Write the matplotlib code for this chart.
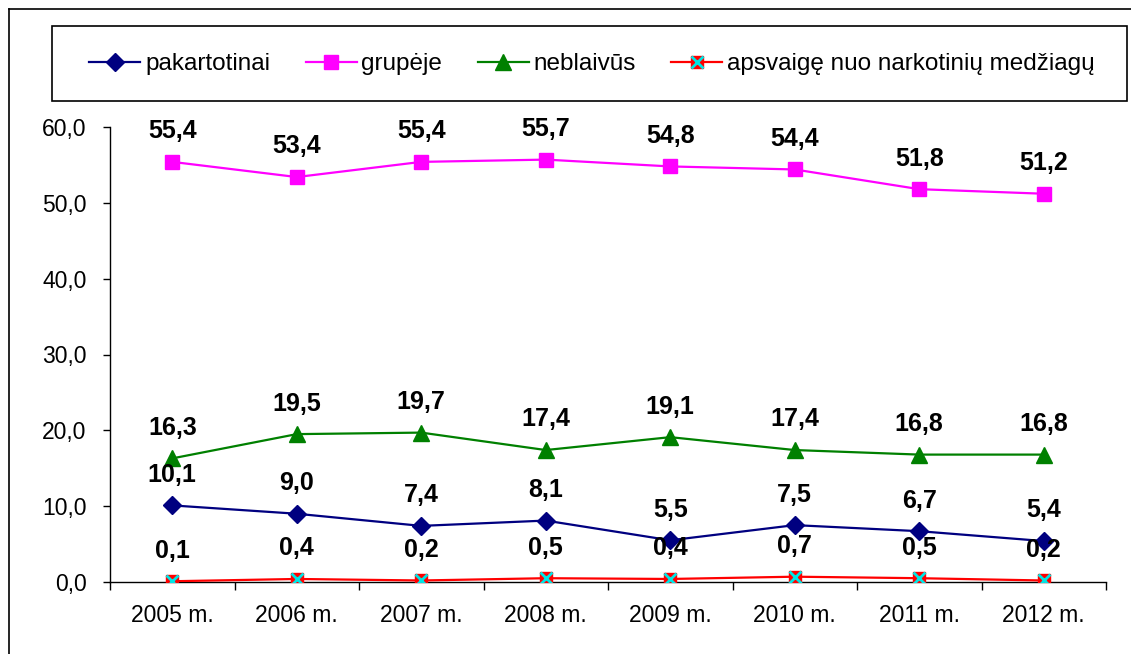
import matplotlib
matplotlib.use("Agg")
import matplotlib.pyplot as plt
from matplotlib.lines import Line2D
from matplotlib.patches import Rectangle

plt.rcParams['font.family'] = ['Liberation Sans', 'DejaVu Sans']

categories = ["2005 m.", "2006 m.", "2007 m.", "2008 m.", "2009 m.", "2010 m.", "2011 m.", "2012 m."]
pakartotinai = [10.1, 9.0, 7.4, 8.1, 5.5, 7.5, 6.7, 5.4]
grupeje = [55.4, 53.4, 55.4, 55.7, 54.8, 54.4, 51.8, 51.2]
neblaivus = [16.3, 19.5, 19.7, 17.4, 19.1, 17.4, 16.8, 16.8]
apsvaige = [0.1, 0.4, 0.2, 0.5, 0.4, 0.7, 0.5, 0.2]
series_names = ["pakartotinai", "grupėje", "neblaivūs", "apsvaigę nuo narkotinių medžiagų"]
yticks = [0, 10, 20, 30, 40, 50, 60]

fig = plt.figure(figsize=(11.31, 6.54), dpi=100)
ax = fig.add_axes([110/1131, 1-582/654, (1106-110)/1131, (582-127)/654])

x = list(range(len(categories)))
lw = 1.6
h1, = ax.plot(x, pakartotinai, color='#000080', lw=lw, marker='D', ms=9, mfc='#000080', mec='#000080', zorder=3)
h2, = ax.plot(x, grupeje, color='#FF00FF', lw=lw, marker='s', ms=10, mfc='#FF00FF', mec='#FF00FF', zorder=3)
h3, = ax.plot(x, neblaivus, color='#008000', lw=lw, marker='^', ms=11, mfc='#008000', mec='#008000', zorder=3)
h4a, = ax.plot(x, apsvaige, color='#FF0000', lw=lw, marker='s', ms=9, mfc='#FF0000', mec='#FF0000', zorder=3)
h4b, = ax.plot(x, apsvaige, ls='none', marker='x', ms=8, mew=2, color='#00E5E5', zorder=4)

def fmt(v):
    return f"{v:.1f}".replace('.', ',')

for series in [pakartotinai, grupeje, neblaivus, apsvaige]:
    for xi, v in zip(x, series):
        ax.annotate(fmt(v), (xi, v), xytext=(0, 22), textcoords='offset points',
                    ha='center', va='center', fontsize=18, fontweight='bold', color='black', zorder=5)

ax.set_xlim(-0.5, len(categories) - 0.5)
ax.set_ylim(0, 60)
ax.set_yticks(yticks)
ax.set_yticklabels([fmt(v) for v in yticks], fontsize=16.5)
ax.set_xticks(x)
ax.set_xticklabels(categories, fontsize=16.5)
ax.set_xticks([i - 0.5 for i in range(len(categories) + 1)], minor=True)
ax.tick_params(axis='x', which='major', length=0, pad=16)
ax.tick_params(axis='x', which='minor', length=6, direction='out', width=1)
ax.tick_params(axis='y', which='major', length=5, direction='out', width=1, pad=12)
ax.spines['top'].set_visible(False)
ax.spines['right'].set_visible(False)
for s in ['left', 'bottom']:
    ax.spines[s].set_color('black')
    ax.spines[s].set_linewidth(1)
ax.set_facecolor('none')

# legend box
fig.patches.append(Rectangle((52/1131, 1-101/654), (1127-52)/1131, 75/654,
                             transform=fig.transFigure, fill=False, edgecolor='black', lw=1.2))
leg = fig.legend([h1, h2, h3, (h4a, h4b)], series_names, loc='center',
                 bbox_to_anchor=(592/1131, 1-64/654), ncol=4, frameon=False,
                 fontsize=17.5, handlelength=2.1, handletextpad=0.2, columnspacing=1.45)

# outer border (left and top)
fig.add_artist(Line2D([9/1131, 9/1131], [0, 1-9/654], transform=fig.transFigure, color='black', lw=1.2))
fig.add_artist(Line2D([9/1131, 1], [1-9/654, 1-9/654], transform=fig.transFigure, color='black', lw=1.2))

fig.savefig("out.png", dpi=100, facecolor='white')
